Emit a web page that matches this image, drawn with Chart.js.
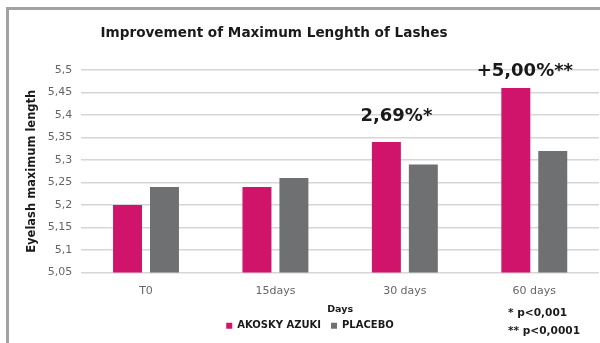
<!DOCTYPE html>
<html>
<head>
<meta charset="utf-8">
<script src="https://cdn.jsdelivr.net/npm/chart.js@4/dist/chart.umd.min.js"></script>
<style>
  html, body { margin: 0; padding: 0; background: #fff; }
  #wrap { position: relative; width: 600px; height: 343px; }
</style>
</head>
<body>
<div id="wrap"><canvas id="chart" width="600" height="343"></canvas></div>
<script>
// Eyelash maximum length by visit day
const categories = ['T0', '15days', '30 days', '60 days'];
const akoskyAzuki = [5.2, 5.24, 5.34, 5.46];
const placebo = [5.24, 5.26, 5.29, 5.32];
const yTickValues = [5.05, 5.1, 5.15, 5.2, 5.25, 5.3, 5.35, 5.4, 5.45, 5.5];
// Gain of the AKOSKY AZUKI group over T0, with significance marks
const gainLabels = [null, null, '2,69%*', '+5,00%**'];
const footnotes = ['* p<0,001', '** p<0,0001'];

const FONT = "'DejaVu Sans', sans-serif";
const PINK = '#d0146c';
const GREY = '#6f7072';

const decorations = {
  id: 'decorations',
  beforeDraw(chart) {
    const ctx = chart.ctx;
    ctx.save();
    ctx.fillStyle = '#fff';
    ctx.fillRect(0, 0, chart.width, chart.height);
    ctx.fillStyle = '#a2a2a2';
    ctx.fillRect(6, 7, chart.width - 6, 3);
    ctx.fillRect(6, 7, 3, chart.height - 7);
    ctx.restore();
  },
  afterDraw(chart, args, opts) {
    const ctx = chart.ctx;
    ctx.save();
    // heading
    ctx.fillStyle = '#1a1a1a';
    ctx.font = 'bold 13.6px ' + FONT;
    ctx.textAlign = 'center';
    ctx.textBaseline = 'alphabetic';
    ctx.fillText('Improvement of Maximum Lenghth of Lashes', 274, 37);

    // gain labels above the AKOSKY AZUKI bars
    const meta = chart.getDatasetMeta(0);
    ctx.font = 'bold 18px ' + FONT;
    gainLabels.forEach((txt, i) => {
      if (!txt) return;
      const bar = meta.data[i];
      const off = opts.labelOffsets[i] || [0, -14];
      ctx.fillText(txt, bar.x + off[0], bar.y + off[1]);
    });

    // significance footnotes
    ctx.font = 'bold 10.6px ' + FONT;
    ctx.textAlign = 'left';
    ctx.textBaseline = 'middle';
    footnotes.forEach((txt, i) => {
      ctx.fillText(txt, 508, 313 + i * 18);
    });
    ctx.restore();
  }
};

new Chart(document.getElementById('chart'), {
  type: 'bar',
  data: {
    labels: categories,
    datasets: [
      { label: 'AKOSKY AZUKI', data: akoskyAzuki, backgroundColor: PINK },
      { label: 'PLACEBO', data: placebo, backgroundColor: GREY }
    ]
  },
  options: {
    responsive: false,
    animation: false,
    devicePixelRatio: 1,
    categoryPercentage: 0.571,
    barPercentage: 0.784,
    layout: { padding: { top: 70, right: 1, left: 21, bottom: 2.25 } },
    scales: {
      x: {
        grid: { display: false, drawTicks: false },
        border: { display: false },
        afterFit: (scale) => { scale.height = 38.25; },
        ticks: { color: '#666', font: { family: FONT, size: 11 }, padding: 12 },
        title: {
          display: true, text: 'Days', color: '#1a1a1a',
          font: { family: FONT, size: 9.5, weight: 'bold' },
          padding: { top: 0, bottom: -4.5 }
        }
      },
      y: {
        min: 5.05,
        max: 5.5,
        afterBuildTicks: (scale) => { scale.ticks = yTickValues.map(v => ({ value: v })); },
        grid: { color: '#d6d6d6', lineWidth: 1.5, drawTicks: false },
        border: { display: false },
        ticks: {
          color: '#666', font: { family: FONT, size: 11 }, padding: 9,
          callback: (v) => String(+v.toFixed(2)).replace('.', ',')
        },
        title: {
          display: true, text: 'Eyelash maximum length', color: '#1a1a1a',
          font: { family: FONT, size: 11.5, weight: 'bold' },
          padding: { top: 4, bottom: 0 }
        }
      }
    },
    plugins: {
      legend: {
        position: 'bottom',
        labels: {
          color: '#1a1a1a', boxWidth: 6, boxHeight: 6, padding: 10,
          font: { family: FONT, size: 10, weight: 'bold' }
        }
      },
      tooltip: { enabled: false },
      decorations: { labelOffsets: [null, null, [10, -21], [9, -12]] }
    }
  },
  plugins: [decorations]
});
</script>
</body>
</html>
